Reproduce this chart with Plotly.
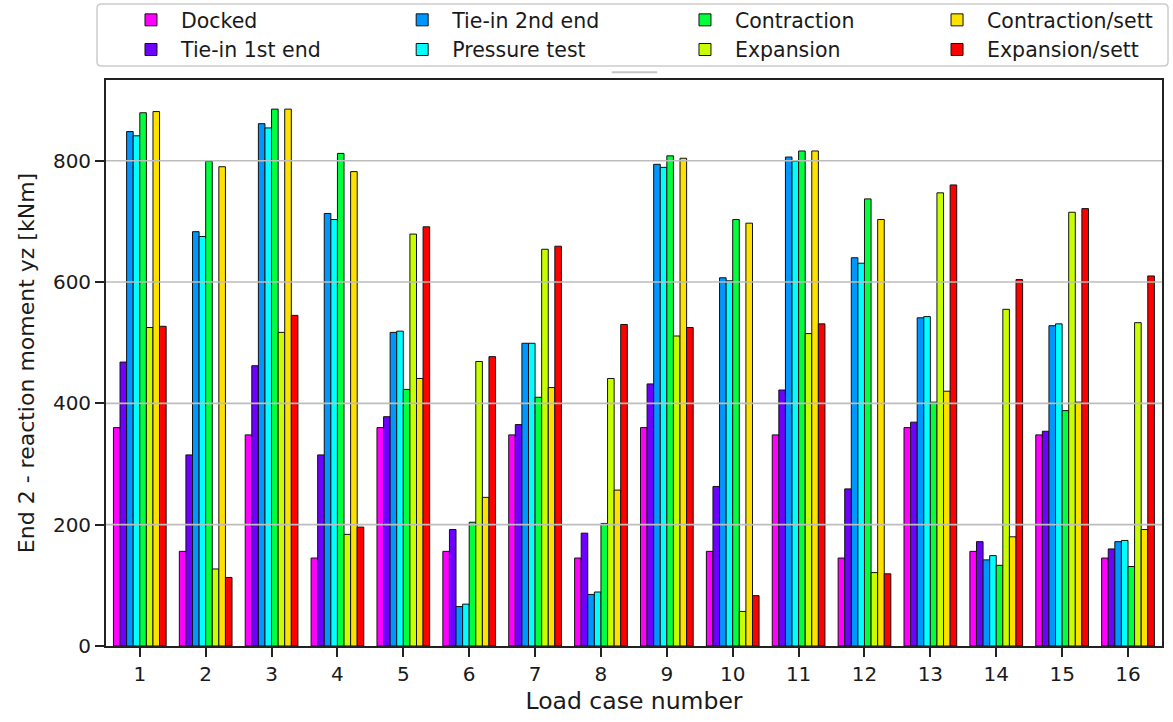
import plotly.graph_objects as go

cases = list(range(1, 17))
series_names = ["Docked", "Tie-in 1st end", "Tie-in 2nd end", "Pressure test",
                "Contraction", "Expansion", "Contraction/sett", "Expansion/sett"]
colors = ["#ff00ff", "#6e00ff", "#0096ff", "#00ffff",
          "#00ff3c", "#c8ff00", "#ffe100", "#ff0000"]

docked = [360, 156, 348, 145, 360, 156, 348, 145, 360, 156, 348, 145, 360, 156, 348, 145]
tie_in_1st = [468, 315, 462, 315, 378, 192, 365, 186, 432, 263, 422, 259, 369, 172, 354, 160]
tie_in_2nd = [848, 683, 861, 713, 517, 65, 499, 85, 794, 607, 806, 640, 541, 142, 528, 172]
pressure_test = [841, 675, 854, 703, 519, 69, 499, 89, 789, 602, 799, 631, 543, 149, 531, 174]
contraction = [879, 799, 885, 812, 423, 204, 410, 202, 808, 703, 816, 737, 402, 133, 388, 131]
expansion = [525, 127, 517, 184, 679, 469, 654, 441, 511, 57, 515, 121, 747, 555, 715, 533]
contraction_sett = [881, 790, 885, 782, 441, 245, 426, 257, 804, 697, 816, 703, 420, 180, 402, 192]
expansion_sett = [527, 113, 545, 196, 691, 477, 659, 530, 525, 83, 531, 119, 760, 604, 721, 610]

series_values = [docked, tie_in_1st, tie_in_2nd, pressure_test,
                 contraction, expansion, contraction_sett, expansion_sett]

y_ticks = [0, 200, 400, 600, 800]

FONT = "DejaVu Sans"
TXT = "#1a1a1a"
legend_ids = ["legend", "legend2", "legend3", "legend4"]

fig = go.Figure()
for i, (name, vals, col) in enumerate(zip(series_names, series_values, colors)):
    fig.add_trace(go.Bar(
        x=cases, y=vals, name=name,
        marker=dict(color=col, line=dict(color="#111111", width=1)),
        legend=legend_ids[i // 2],
    ))

legend_x = [0.0142, 0.271, 0.5388, 0.7775]
legend_common = dict(
    orientation="v", yanchor="top", y=1.1413, xanchor="left",
    bgcolor="rgba(0,0,0,0)", borderwidth=0,
    font=dict(family=FONT, size=20.5, color=TXT),
    itemwidth=50, tracegroupgap=0,
)
legend_layouts = {lid: dict(x=lx, **legend_common) for lid, lx in zip(legend_ids, legend_x)}

# grid lines drawn above bars (matplotlib style)
shapes = []
for t in y_ticks[1:]:
    shapes.append(dict(type="line", xref="paper", yref="y", x0=0, x1=1, y0=t, y1=t,
                       line=dict(color="#bdbdbd", width=1.6), layer="above"))

# legend frame (rounded rectangle)
x0, x1, y0, y1 = -0.0085, 1.0057, 1.0247, 1.1343
rx, ry = 0.004, 0.0075
path = (f"M {x0+rx},{y0} L {x1-rx},{y0} Q {x1},{y0} {x1},{y0+ry} "
        f"L {x1},{y1-ry} Q {x1},{y1} {x1-rx},{y1} L {x0+rx},{y1} "
        f"Q {x0},{y1} {x0},{y1-ry} L {x0},{y0+ry} Q {x0},{y0} {x0+rx},{y0} Z")
shapes.append(dict(type="path", xref="paper", yref="paper", path=path,
                   line=dict(color="#cccccc", width=1.5), fillcolor="rgba(255,255,255,0)",
                   layer="above"))
# small grey line under legend
shapes.append(dict(type="line", xref="paper", yref="paper", x0=0.479, x1=0.522,
                   y0=1.0138, y1=1.0138, line=dict(color="#c4c4c4", width=2)))

fig.update_layout(
    width=1173, height=722,
    margin=dict(l=106, r=11, t=80, b=76, autoexpand=False),
    paper_bgcolor="white", plot_bgcolor="white",
    barmode="group", bargap=0.2, bargroupgap=0,
    font=dict(family=FONT, size=20, color=TXT),
    shapes=shapes,
    **legend_layouts,
)
fig.update_xaxes(
    range=[0.487, 16.516], tickvals=cases, ticktext=[str(c) for c in cases],
    ticks="outside", ticklen=9, tickwidth=1.8, tickcolor="#222222",
    showline=True, linecolor="#222222", linewidth=1.8, mirror=True,
    showgrid=False, zeroline=False, automargin=False,
    tickfont=dict(family=FONT, size=20, color=TXT),
    title=dict(text="Load case number", font=dict(family=FONT, size=23.5, color=TXT), standoff=8),
)
fig.update_yaxes(
    range=[0, 933], tickvals=y_ticks, ticktext=[str(t) for t in y_ticks],
    ticks="outside", ticklen=9, tickwidth=1.8, tickcolor="#222222",
    showline=True, linecolor="#222222", linewidth=1.8, mirror=True,
    showgrid=False, zeroline=False, automargin=False,
    tickfont=dict(family=FONT, size=20, color=TXT),
    title=dict(text="End 2 - reaction moment yz [kNm]", font=dict(family=FONT, size=22, color=TXT), standoff=12),
)

fig.write_html(
    "out.html",
    config={"displayModeBar": False},
    post_script="document.body.style.margin='0';document.body.style.overflow='hidden';",
)
